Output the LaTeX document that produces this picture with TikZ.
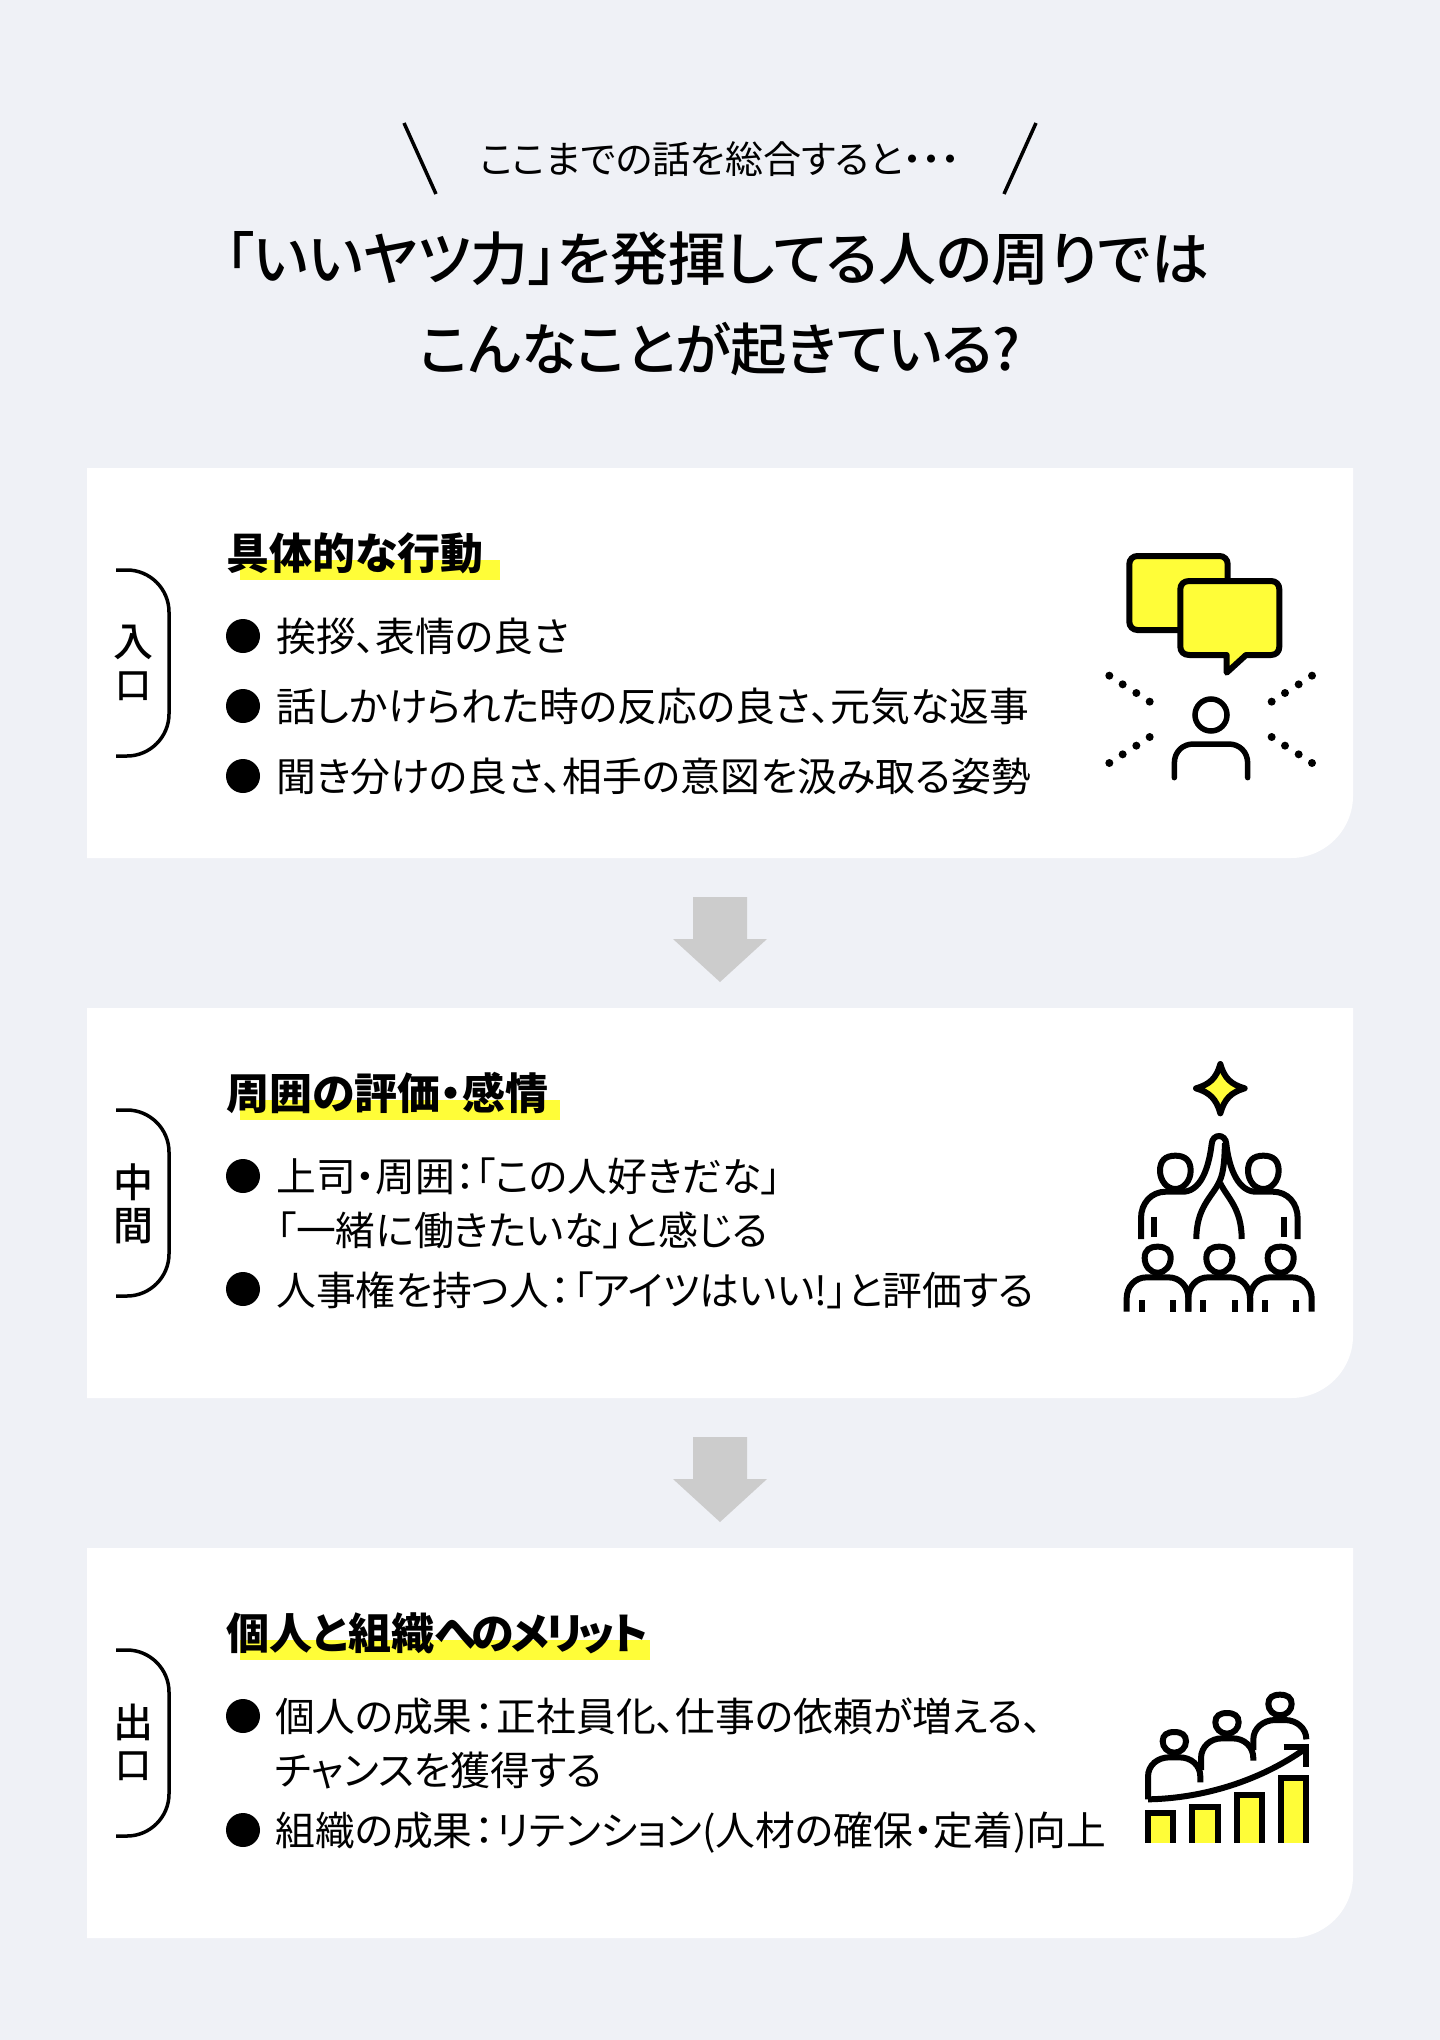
\documentclass[tikz,border=0pt]{standalone}
\usepackage{fontspec}
\setmainfont[RawFeature={+palt}]{Noto Sans CJK JP}
\newfontfamily\jpmed[RawFeature={+palt}]{Noto Sans CJK JP Medium}
\definecolor{bgc}{HTML}{EFF1F6}
\definecolor{yel}{HTML}{FFFD38}
\definecolor{arrowc}{HTML}{CCCCCC}
\newcommand{\cln}{\kern1.5pt：\kern2.5pt}
\tikzset{
 titletext/.style={inner sep=0,anchor=base,font=\jpmed\fontsize{57.8}{60}\selectfont},
 titletwo/.style={inner sep=0,anchor=base,font=\jpmed\fontsize{56.5}{60}\selectfont},
 subtext/.style={inner sep=0,anchor=base,font=\fontsize{38}{44}\selectfont},
 headtext/.style={inner sep=0,anchor=base west,font=\bfseries\fontsize{43}{50}\selectfont},
 bodytext/.style={inner sep=0,anchor=base west,font=\fontsize{39.8}{46}\selectfont},
 sidetext/.style={inner sep=0,anchor=center,font=\jpmed\fontsize{40}{46}\selectfont},
 sidesmall/.style={inner sep=0,anchor=center,font=\jpmed\fontsize{36}{46}\selectfont},
 dotb/.style={circle,fill=black,minimum size=34pt,inner sep=0},
 iconline/.style={draw=black,line width=6pt},
 headicon/.pic={\draw[iconline] (0,50) .. controls (-25,50) and (-46,25) .. (-46,-5) .. controls (-46,-35) and (-30,-50) .. (0,-50) .. controls (30,-50) and (46,-35) .. (46,-5) .. controls (46,25) and (25,50) .. (0,50) -- cycle;},
 headmid/.pic={\draw[iconline] (0,40) .. controls (-22,40) and (-39,20) .. (-39,-4) .. controls (-39,-28) and (-24,-38) .. (0,-38) .. controls (24,-38) and (39,-28) .. (39,-4) .. controls (39,20) and (22,40) .. (0,40) -- cycle;},
 headsmall/.pic={\draw[iconline] (0,31) .. controls (-20,31) and (-35,15) .. (-35,-3) .. controls (-35,-22) and (-22,-31) .. (0,-31) .. controls (22,-31) and (35,-22) .. (35,-3) .. controls (35,15) and (20,31) .. (0,31) -- cycle;},
 cardbox/.pic={\fill[white] (0,0) -- (1266,0) -- (1266,328) .. controls (1266,362) and (1238,390) .. (1204,390) -- (0,390) -- cycle;},
 bracketline/.pic={\draw[line width=3.5pt] (0,0) -- (11,0) .. controls (34,0) and (53,19) .. (53,42) -- (53,144) .. controls (53,167) and (34,186) .. (11,186) -- (0,186);},
 downarrow/.pic={\fill[arrowc] (-27,0) -- (27,0) -- (27,42) -- (47,42) -- (0,85) -- (-47,42) -- (-27,42) -- cycle;},
}
\begin{document}
\begin{tikzpicture}[x=1pt,y=-1pt]
\useasboundingbox (0,0) rectangle (1440,2040);
\fill[bgc] (0,0) rectangle (1440,2040);
% top
\coordinate (sl1a) at (404,123);
\coordinate (sl1b) at (436,194);
\coordinate (sl2a) at (1036,123);
\coordinate (sl2b) at (1004,194);
\draw[line width=3.5pt] (sl1a) -- (sl1b);
\draw[line width=3.5pt] (sl2a) -- (sl2b);
\node[subtext] (sub) at (720,173) {ここまでの話を総合すると・・・};
\node[titletext] (t1) at (717,280) {「いいヤツ力」を発揮してる人の周りでは};
\node[titletwo] (t2) at (720,370) {こんなことが起きている?};
% cards
\pic at (87,468) {cardbox};
\pic at (87,1008) {cardbox};
\pic at (87,1548) {cardbox};
\pic at (720,897) {downarrow};
\pic at (720,1437) {downarrow};
\pic at (116,570) {bracketline};
\pic at (116,1110) {bracketline};
\pic at (116,1650) {bracketline};
% side
\node[sidetext] (s1a) at (133,642) {入};
\node[sidesmall] (s1b) at (133,686) {口};
\node[sidetext] (s2a) at (133,1182) {中};
\node[sidetext] (s2b) at (133,1226) {間};
\node[sidetext] (s3a) at (133,1722) {出};
\node[sidesmall] (s3b) at (133,1766) {口};
% highlights
\fill[yel] (240,560) rectangle (500,580);
\fill[yel] (240,1100) rectangle (560,1120);
\fill[yel] (240,1640) rectangle (650,1660);
% section 1
\node[headtext] (h1) at (226,569) {具体的な行動};
\node[dotb] (b11) at (243,636) {};
\node[dotb] (b12) at (243,706) {};
\node[dotb] (b13) at (243,776) {};
\node[bodytext] (l11) at (276,651) {挨拶、表情の良さ};
\node[bodytext] (l12) at (276,721) {話しかけられた時の反応の良さ、元気な返事};
\node[bodytext] (l13) at (276,791) {聞き分けの良さ、相手の意図を汲み取る姿勢};
% section 2
\node[headtext] (h2) at (226,1109) {周囲の評価・感情};
\node[dotb] (b21) at (243,1176) {};
\node[dotb] (b22) at (243,1289) {};
\node[bodytext] (l21) at (276,1191) {上司・周囲：「この人好きだな」};
\node[bodytext] (l22) at (276,1245) {「一緒に働きたいな」と感じる};
\node[bodytext] (l23) at (276,1305) {人事権を持つ人\cln「アイツはいい!」と評価する};
% section 3
\node[headtext] (h3) at (226,1649) {個人と組織へ\kern-4pt の\kern-3pt メ\kern-4pt リ\kern-4pt ッ\kern-3pt ト};
\node[dotb] (b31) at (243,1716) {};
\node[dotb] (b32) at (243,1830) {};
\node[bodytext] (l31) at (275,1731) {個人の成果\cln 正社員化、仕事の依頼が増える、};
\node[bodytext] (l32) at (275,1785) {チャンスを獲得する};
\node[bodytext] (l33) at (275,1845) {組織の成果\cln リテンション(人材の確保・定着)向上};
% icon 1
\begin{scope}[shift={(1061,520)},x=.33333pt,y=-.33333pt]
\draw[iconline,fill=yel,rounded corners=8pt] (205,108) rectangle (500,330);
\draw[iconline,fill=yel,line join=round] (385,183) -- (630,183) .. controls (645,183) and (655,193) .. (655,208) -- (655,380) .. controls (655,395) and (645,405) .. (630,405) -- (555,405) -- (497,458) -- (497,405) -- (385,405) .. controls (368,405) and (358,395) .. (358,380) -- (358,208) .. controls (358,193) and (368,183) .. (385,183) -- cycle;
\foreach \p in {(145,467),(185,493),(226,519),(266,545),(753,467),(713,493),(672,519),(632,545),(145,729),(185,703),(226,677),(266,651),(753,729),(713,703),(672,677),(632,651)}{
 \fill \p circle[radius=12];
}
\draw[line width=5.5pt] (450,585) circle[radius=48];
\draw[line width=5.5pt,line cap=round] (340,773) -- (340,730) .. controls (340,695) and (365,672) .. (397,672) -- (503,672) .. controls (535,672) and (560,695) .. (560,730) -- (560,773);
\end{scope}
% icon 2
\begin{scope}[shift={(1091,1040)},x=.33333pt,y=-.33333pt]
\draw[iconline,fill=yel,line join=round] (388,72) .. controls (400,115) and (420,133) .. (461,145) .. controls (420,157) and (400,177) .. (388,220) .. controls (376,177) and (356,157) .. (315,145) .. controls (356,133) and (376,115) .. (388,72) -- cycle;
\pic at (253,397) {headicon};
\pic at (517,397) {headicon};
\draw[iconline] (150,597) -- (150,535) .. controls (150,490) and (180,455) .. (225,455) -- (280,455) .. controls (335,450) and (355,370) .. (362,312) .. controls (364,280) and (404,280) .. (406,312) .. controls (412,370) and (435,450) .. (490,455) -- (545,455) .. controls (590,455) and (620,490) .. (620,535) -- (620,597);
\draw[iconline] (402,310) .. controls (400,350) and (400,395) .. (385,425) .. controls (365,470) and (316,500) .. (316,597);
\draw[iconline] (388,430) .. controls (410,475) and (452,505) .. (452,597);
\draw[iconline] (188,530) -- (188,590);
\draw[iconline] (580,530) -- (580,590);
\foreach \c in {200,385,569}{
 \pic at (\c,658) {headmid};
}
\foreach \c in {107,292,477}{
 \draw[iconline] (\c,815) -- (\c,775) .. controls (\c,740) and (\c+25,712) .. (\c+60,712) -- (\c+125,712) .. controls (\c+160,712) and (\c+185,740) .. (\c+185,775) -- (\c+185,815);
 \draw[iconline] (\c+45,780) -- (\c+45,815);
 \draw[iconline] (\c+139,780) -- (\c+139,815);
}
\end{scope}
% icon 3
\begin{scope}[shift={(1121,1670)},x=.33333pt,y=-.33333pt]
\pic at (160,217) {headsmall};
\pic at (318,160) {headsmall};
\pic at (477,105) {headsmall};
\draw[iconline] (81,388) -- (81,320) .. controls (81,285) and (110,262) .. (145,262) -- (175,262) .. controls (210,262) and (238,285) .. (238,320) -- (238,337);
\draw[iconline] (240,300) -- (240,265) .. controls (240,230) and (268,205) .. (303,205) -- (335,205) .. controls (370,205) and (397,230) .. (397,265) -- (397,272);
\draw[iconline] (397,240) -- (397,208) .. controls (397,175) and (427,150) .. (462,150) -- (492,150) .. controls (527,150) and (556,175) .. (556,208);
\draw[iconline] (81,388) .. controls (250,385) and (420,330) .. (550,238);
\draw[iconline,line join=miter] (488,232) -- (556,232) -- (556,291);
\foreach \a/\b in {81/430,214/411,347/376,480/325}{
 \fill[yel] (\a,\b) rectangle (\a+76,518);
 \draw[iconline] (\a,518) -- (\a,\b) -- (\a+76,\b) -- (\a+76,518);
}
\end{scope}
\end{tikzpicture}
\end{document}
